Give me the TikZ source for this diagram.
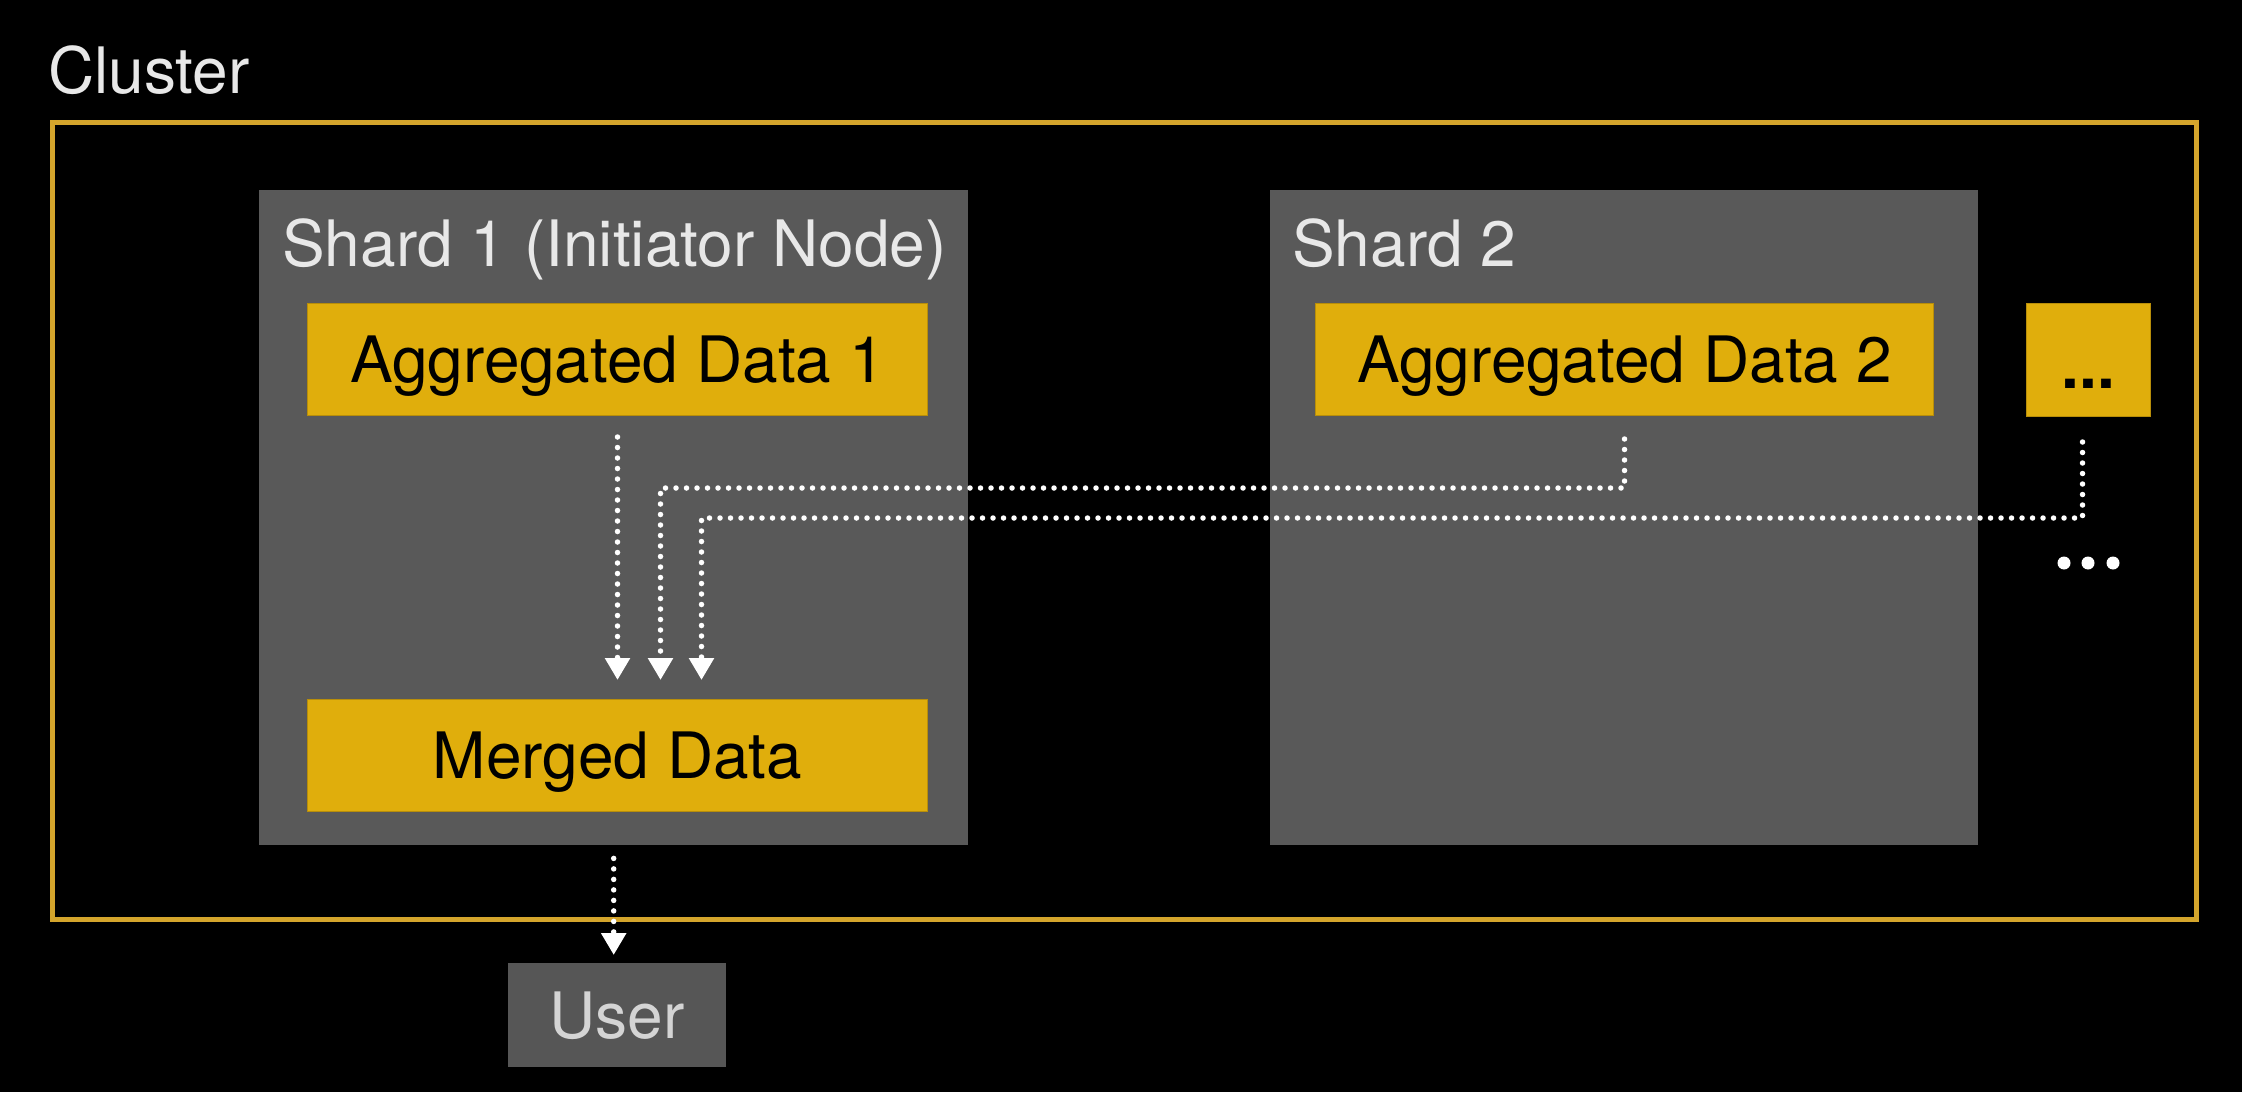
\documentclass[tikz,border=0pt]{standalone}
\usepackage{fontspec}
\setmainfont{TeX Gyre Heros}
\usetikzlibrary{arrows.meta}
\definecolor{shardgray}{HTML}{595959}
\definecolor{usergray}{HTML}{565656}
\definecolor{gold}{HTML}{E0AE0C}
\definecolor{goldedge}{HTML}{B88E0A}
\definecolor{framegold}{HTML}{D4A52C}
\definecolor{lighttext}{HTML}{E8E8E8}
\definecolor{usertext}{HTML}{D4D4D4}
\begin{document}
\begin{tikzpicture}[x=1pt,y=-1pt,
  big/.style={font=\fontsize{64pt}{76pt}\selectfont},
  box/.style={anchor=north west, inner sep=0pt, text height=46pt, text depth=0pt, big},
  shardbox/.style={box, fill=shardgray},
  goldbox/.style={box, fill=gold, draw=goldedge, line width=1pt, text=black},
  lbl/.style={anchor=base west, inner sep=0pt, big, text=lighttext},
  flow/.style={draw=white, line width=5.5pt, line cap=round, dash pattern=on 0pt off 10.5pt,
    -{Triangle[width=24pt,length=22pt]}}
]
\useasboundingbox (0,0) rectangle (2242,1092);
\fill[black] (0,0) rectangle (2242,1092);

% cluster
\node[anchor=north west, inner sep=0pt, draw=framegold, line width=5pt,
      minimum width=2144pt, minimum height=797pt] (cluster) at (50,120) {};
\node[lbl] (clusterlbl) at (48,93) {Cluster};

% shards
\node[shardbox, minimum width=709pt, minimum height=655pt] (s1) at (259,190) {};
\node[shardbox, minimum width=708pt, minimum height=655pt] (s2) at (1270,190) {};
\node[lbl] (s1lbl) at (282,266) {Shard 1 (Initiator Node)};
\node[lbl] (s2lbl) at (1292,266) {Shard 2};

% data boxes
\node[goldbox, minimum width=620pt, minimum height=112pt] (a1) at (307,303) {Aggregated Data 1};
\node[goldbox, minimum width=618pt, minimum height=112pt] (a2) at (1315,303) {Aggregated Data 2};
\node[goldbox, minimum width=124pt, minimum height=113pt, text height=56pt,
      font=\fontsize{64pt}{76pt}\selectfont\bfseries] (a3) at (2026,303) {...};
\node[goldbox, minimum width=620pt, minimum height=112pt] (merged) at (307,699) {Merged Data};

% user
\node[box, fill=usergray, text=usertext, minimum width=218pt, minimum height=104pt] (user) at (508,963) {User};

% more shards indicator
\fill[white] (2064,563) circle (6.5) (2088,563) circle (6.5) (2113,563) circle (6.5);

% connectors
\coordinate (h1) at (0,488);
\coordinate (h2) at (0,518);
\draw[flow, shorten <=21pt, shorten >=19pt] (a1.south) -- (merged.north);
\draw[flow, shorten <=23pt, shorten >=19pt] (a2.south) -- (a2.south |- h1) -| ([xshift=43pt]merged.north);
\draw[flow, shorten <=25pt, shorten >=19pt] ([xshift=-6pt]a3.south) -- ([xshift=-6pt]a3.south |- h2) -| ([xshift=84pt]merged.north);
\draw[flow, shorten <=13pt, shorten >=8pt] (s1.south) -- (s1.south |- user.north);
\end{tikzpicture}
\end{document}
